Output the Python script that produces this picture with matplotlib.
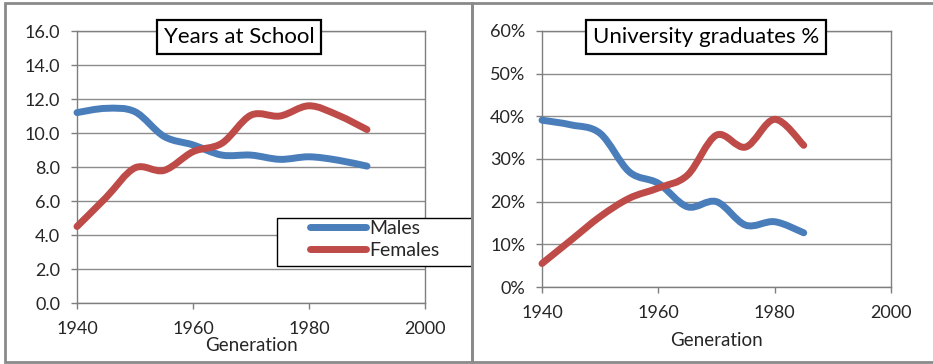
import numpy as np
import matplotlib
matplotlib.use("Agg")
import matplotlib.pyplot as plt
from matplotlib.path import Path
from matplotlib.patches import PathPatch, Rectangle
from matplotlib.lines import Line2D

plt.rcParams['font.family'] = ['Lato', 'DejaVu Sans']

# generation years
years_school = [1940, 1945, 1950, 1955, 1960, 1965, 1970, 1975, 1980, 1985, 1990]
school_males = [11.2, 11.45, 11.25, 9.8, 9.3, 8.7, 8.7, 8.45, 8.6, 8.4, 8.05]
school_females = [4.5, 6.2, 7.95, 7.8, 8.9, 9.4, 11.05, 11.0, 11.6, 11.05, 10.2]

years_uni = [1940, 1945, 1950, 1955, 1960, 1965, 1970, 1975, 1980, 1985]
uni_males = [39.1, 38.0, 36.0, 27.0, 24.3, 18.8, 20.0, 14.5, 15.3, 12.7]
uni_females = [5.5, 11.0, 16.5, 20.8, 23.2, 26.2, 35.6, 32.8, 39.3, 33.2]

x_ticks = [1940, 1960, 1980, 2000]
BLUE = '#4a7ebb'
RED = '#be4b48'
GRID = '#8c8c8c'
TXT = '#262626'


def smooth_path(xs, ys):
    # excel-style smoothed line: catmull-rom turned into cubic beziers
    p = np.column_stack([xs, ys]).astype(float)
    p = np.vstack([p[0], p, p[-1]])
    verts = [p[1]]
    codes = [Path.MOVETO]
    for i in range(1, len(p) - 2):
        c1 = p[i] + (p[i + 1] - p[i - 1]) / 6
        c2 = p[i + 1] - (p[i + 2] - p[i]) / 6
        verts += [c1, c2, p[i + 1]]
        codes += [Path.CURVE4] * 3
    return Path(verts, codes)


def draw_line(ax, xs, ys, color):
    patch = PathPatch(smooth_path(xs, ys), fill=False, edgecolor=color, lw=5,
                      capstyle='round', joinstyle='round', clip_on=False, zorder=3)
    ax.add_patch(patch)


def style_axes(ax, ymax, ystep):
    ax.set_xlim(1940, 2000)
    ax.set_ylim(0, ymax)
    ax.set_xticks(x_ticks)
    ax.set_yticks(np.arange(0, ymax + 0.001, ystep))
    ax.grid(axis='y', color=GRID, lw=1)
    ax.set_axisbelow(True)
    for s in ax.spines.values():
        s.set_color('#7f7f7f')
        s.set_linewidth(1)
    ax.tick_params(direction='out', length=4, width=1, color='#7f7f7f',
                   labelsize=13, labelcolor=TXT)
    ax.tick_params(axis='y', pad=8)
    ax.tick_params(axis='x', pad=9)
    ax.set_xlabel('Generation', fontsize=13.5, color=TXT, labelpad=0)


W, H = 933, 364
fig = plt.figure(figsize=(W / 100, H / 100), dpi=100)


def fx(px):
    return px / W


def fy(py):
    return 1 - py / H


ax1 = fig.add_axes([fx(77), fy(303), fx(425 - 77), (303 - 31) / H])
ax2 = fig.add_axes([fx(542), fy(287), fx(891 - 542), (287 - 31) / H])

style_axes(ax1, 16, 2)
ax1.yaxis.set_major_formatter(plt.FuncFormatter(lambda v, _: f'{v:.1f}'))
draw_line(ax1, years_school, school_males, BLUE)
draw_line(ax1, years_school, school_females, RED)

style_axes(ax2, 60, 10)
ax2.yaxis.set_major_formatter(plt.FuncFormatter(lambda v, _: f'{v:.0f}%'))
ax2.xaxis.labelpad = 8
draw_line(ax2, years_uni, uni_males, BLUE)
draw_line(ax2, years_uni, uni_females, RED)

# boxed titles sitting on the top edge of each plot
box = dict(boxstyle='square,pad=0.3', fc='white', ec='black', lw=1.6)
fig.text(fx(239), fy(37), 'Years at School', ha='center', va='center',
         fontsize=16, color='black', bbox=box, zorder=10)
fig.text(fx(706), fy(37), 'University graduates %', ha='center', va='center',
         fontsize=16, color='black', bbox=box, zorder=10)

# legend for the left chart, poking out past the plot area
fig.patches.append(Rectangle((fx(277), fy(266)), fx(472 - 277), (266 - 218) / H,
                             transform=fig.transFigure, fc='white', ec='black',
                             lw=1, zorder=5))
handles = [Line2D([], [], color=BLUE, lw=5, solid_capstyle='round'),
           Line2D([], [], color=RED, lw=5, solid_capstyle='round')]
leg = fig.legend(handles, ['Males', 'Females'], loc='upper left',
                 bbox_to_anchor=(fx(310), fy(220)), frameon=False,
                 fontsize=14, handlelength=2.9, handletextpad=0.15,
                 labelspacing=0.25, borderpad=0, borderaxespad=0)
leg.set_zorder(6)
for t in leg.get_texts():
    t.set_color(TXT)

# panel frames
frame_kw = dict(transform=fig.transFigure, fill=False, ec='#8a8a8a', lw=2, zorder=20)
fig.patches.append(Rectangle((fx(5), fy(362)), fx(472 - 5), (362 - 3) / H, **frame_kw))
fig.patches.append(Rectangle((fx(472), fy(362)), fx(940 - 472), (362 - 3) / H, **frame_kw))

fig.savefig('out.png', dpi=100, facecolor='white')
